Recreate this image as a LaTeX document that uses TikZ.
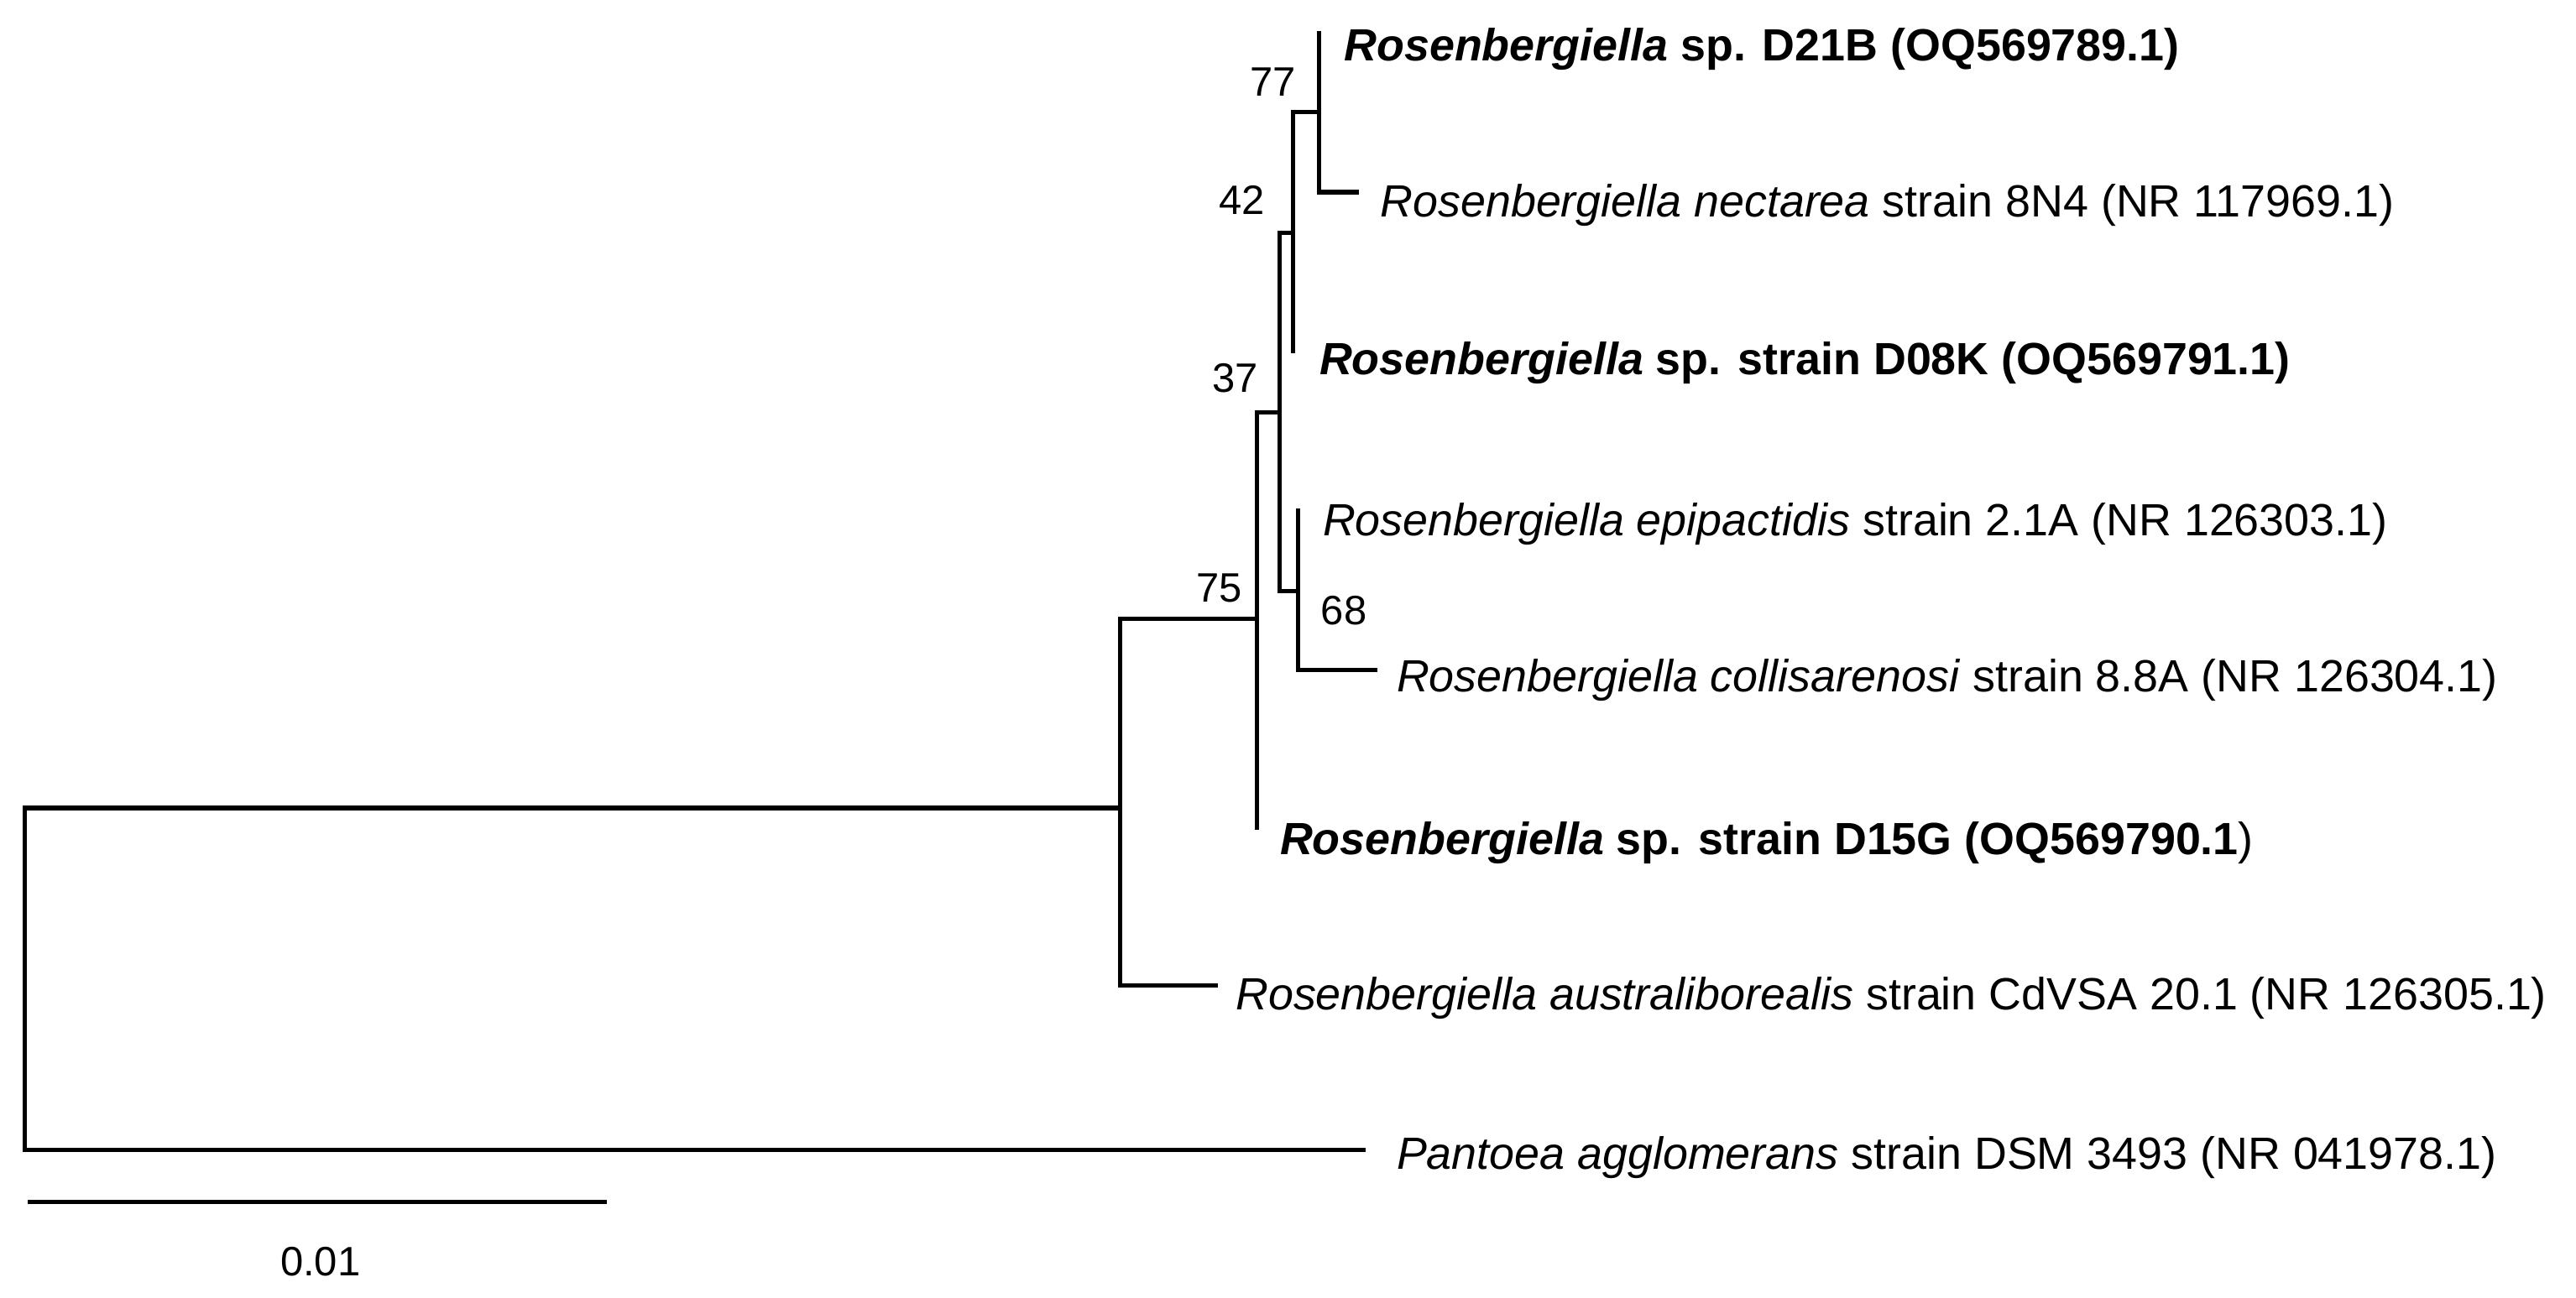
\documentclass[tikz,border=0pt]{standalone}
\usepackage{fontspec}
\setmainfont{Liberation Sans}
\begin{document}
\begin{tikzpicture}[x=1pt,y=-1pt,
  br/.style={line width=2.6pt,line cap=rect},
  leaf/.style={anchor=west,inner sep=0pt,font=\fontsize{27.5}{30}\selectfont},
  boot/.style={inner sep=0pt,font=\fontsize{25}{28}\selectfont}]
\useasboundingbox (0,0) rectangle (1568,790);
% leaves
\node[leaf] (d21b) at (818,30) {\textbf{\textit{Rosenbergiella} sp. D21B (OQ569789.1)}};
\node[leaf] (nec) at (840,125) {\textit{Rosenbergiella nectarea} strain 8N4 (NR 117969.1)};
\node[leaf] (d08k) at (803,221) {\textbf{\textit{Rosenbergiella} sp. strain D08K (OQ569791.1)}};
\node[leaf] (epi) at (805,319) {\textit{Rosenbergiella epipactidis} strain 2.1A (NR 126303.1)};
\node[leaf] (col) at (850,414) {\textit{Rosenbergiella collisarenosi} strain 8.8A (NR 126304.1)};
\node[leaf] (d15g) at (779,513) {\textbf{\textit{Rosenbergiella} sp. strain D15G (OQ569790.1})};
\node[leaf] (aus) at (752,608) {\textit{Rosenbergiella australiborealis} strain CdVSA 20.1 (NR 126305.1)};
\node[leaf] (pan) at (850,705) {\textit{Pantoea agglomerans} strain DSM 3493 (NR 041978.1)};
% tree
\draw[br] (15,700) -- (15,492) -- (682,492);
\draw[br] (15,700) -- (830,700);
\draw[br] (682,377) -- (682,600) -- (740,600);
\draw[br] (682,377) -- (765,377);
\draw[br] (765,504) -- (765,251) -- (779,251);
\draw[br] (779,142) -- (779,360) -- (790,360);
\draw[br] (779,142) -- (787,142);
\draw[br] (787,214) -- (787,68) -- (803,68);
\draw[br] (803,20) -- (803,117) -- (826,117);
\draw[br] (790,311) -- (790,408) -- (837,408);
% bootstrap
\node[boot] (b77) at (775,50) {77};
\node[boot] (b42) at (756,122) {42};
\node[boot] (b37) at (752,230) {37};
\node[boot] (b75) at (742,358) {75};
\node[boot] (b68) at (818,372) {68};
% scale bar
\draw[br] (18,732) -- (368,732);
\node[boot] (sc) at (195,768) {0.01};
\end{tikzpicture}
\end{document}
